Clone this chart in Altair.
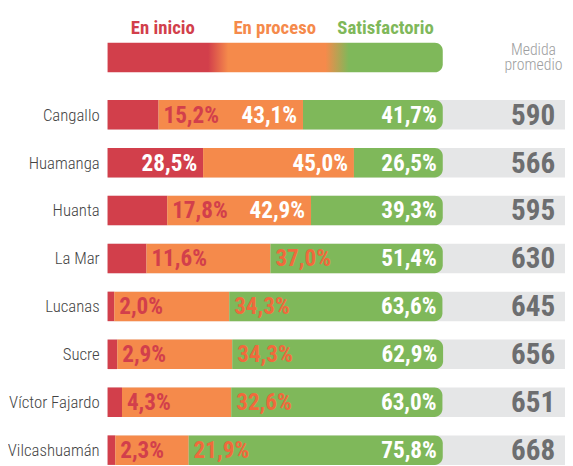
import altair as alt
import pandas as pd

# ---- data ----
provinces = ["Cangallo", "Huamanga", "Huanta", "La Mar", "Lucanas", "Sucre",
             "Víctor Fajardo", "Vilcashuamán"]
en_inicio = [15.2, 28.5, 17.8, 11.6, 2.0, 2.9, 4.3, 2.3]
en_proceso = [43.1, 45.0, 42.9, 37.0, 34.3, 34.3, 32.6, 21.9]
satisfactorio = [41.7, 26.5, 39.3, 51.4, 63.6, 62.9, 63.0, 75.8]
medida = [590, 566, 595, 630, 645, 656, 651, 668]
levels = ["En inicio", "En proceso", "Satisfactorio"]

RED, ORANGE, GREEN = "#d23f4b", "#f58a4b", "#7fb85a"
ORANGE_TXT = "#f06a3c"
GREY_BG = "#e5e6e7"
FONT = "'Roboto Condensed', Roboto, 'Liberation Sans', sans-serif"

def fmt(v):
    return f"{v:.1f}".replace(".", ",") + "%"

seg_rows, inside_rows, outside_rows = [], [], []
for i, p in enumerate(provinces):
    a, b, c = en_inicio[i], en_proceso[i], satisfactorio[i]
    seg_rows += [
        dict(row=i, prov=p, level=levels[0], start=0, end=a, col=RED),
        dict(row=i, prov=p, level=levels[1], start=a, end=a + b, col=ORANGE),
        dict(row=i, prov=p, level=levels[2], start=a + b, end=a + b + c, col=GREEN),
    ]
    red_inside = a >= 25
    if red_inside:
        inside_rows.append(dict(row=i, pos=a, txt=fmt(a)))
    else:
        outside_rows.append(dict(row=i, pos=a, txt=fmt(a), tcol=RED))
    if (not red_inside) and b < 40:
        outside_rows.append(dict(row=i, pos=a + b, txt=fmt(b), tcol=ORANGE_TXT))
    else:
        inside_rows.append(dict(row=i, pos=a + b, txt=fmt(b)))
    inside_rows.append(dict(row=i, pos=a + b + c, txt=fmt(c)))

seg = pd.DataFrame(seg_rows)
seg["y0"] = seg["row"] - 0.308
seg["y1"] = seg["row"] + 0.308
inside = pd.DataFrame(inside_rows)
outside = pd.DataFrame(outside_rows)
rows = pd.DataFrame({"row": range(len(provinces)), "prov": provinces,
                     "medida": medida})
rows["y0"] = rows["row"] - 0.308
rows["y1"] = rows["row"] + 0.308
rows["zero"] = 0

xs = alt.Scale(domain=[0, 100], range=[101, 441], nice=False, zero=False)
ys = alt.Scale(domain=[0, 7], range=[105, 445.2], nice=False, zero=False)
X = lambda f: alt.X(f, scale=xs, axis=None)
Y = lambda f: alt.Y(f, scale=ys, axis=None)

grey = alt.Chart(rows).mark_rect(color=GREY_BG).encode(
    x=X("zero:Q"), x2=alt.value(565), y=Y("y0:Q"), y2="y1:Q",
)

bars = alt.Chart(seg).mark_rect().encode(
    x=X("start:Q"), x2="end:Q", y=Y("y0:Q"), y2="y1:Q",
    color=alt.Color("col:N", scale=None),
).transform_filter(alt.datum.level != "Satisfactorio")

green = alt.Chart(seg).mark_rect(
    cornerRadiusTopRight=8, cornerRadiusBottomRight=8, color=GREEN
).encode(
    x=X("start:Q"), x2="end:Q", y=Y("y0:Q"), y2="y1:Q",
).transform_filter(alt.datum.level == "Satisfactorio")

t_in = alt.Chart(inside).mark_text(
    align="right", baseline="middle", dx=-6, dy=1, font=FONT, fontSize=23.5,
    fontWeight="bold", color="white"
).encode(x=X("pos:Q"), y=Y("row:Q"), text="txt:N")

t_out = alt.Chart(outside).mark_text(
    align="left", baseline="middle", dx=5, dy=1, font=FONT, fontSize=23.5,
    fontWeight="bold"
).encode(x=X("pos:Q"), y=Y("row:Q"), text="txt:N",
         color=alt.Color("tcol:N", scale=None))

cats = alt.Chart(rows).mark_text(
    align="right", baseline="middle", dy=1, font=FONT, fontSize=17,
    fontWeight=300, color="#444444"
).encode(x=alt.value(93), y=Y("row:Q"), text="prov:N")

nums = alt.Chart(rows).mark_text(
    align="right", baseline="middle", dy=1, font=FONT, fontSize=29.5,
    fontWeight="bold", color="#6d6e70"
).encode(x=alt.value(555), y=Y("row:Q"), text="medida:Q")

grad = alt.Gradient(
    gradient="linear", x1=0, x2=1, y1=0, y2=0,
    stops=[alt.GradientStop(color=RED, offset=0),
           alt.GradientStop(color=RED, offset=0.30),
           alt.GradientStop(color=ORANGE, offset=0.36),
           alt.GradientStop(color=ORANGE, offset=0.65),
           alt.GradientStop(color=GREEN, offset=0.72),
           alt.GradientStop(color=GREEN, offset=1)])
legend_df = pd.DataFrame({"a": [0], "b": [100]})
legend_bar = alt.Chart(legend_df).mark_rect(
    fill=grad, cornerRadiusTopRight=8, cornerRadiusBottomRight=8
).encode(x=X("a:Q"), x2="b:Q", y=alt.value(32), y2=alt.value(62))

head_df = pd.DataFrame({"lbl": levels, "px": [157, 270.5, 383],
                        "col": [RED, ORANGE, GREEN]})
heads = alt.Chart(head_df).mark_text(
    align="center", baseline="alphabetic", font=FONT, fontSize=19,
    fontWeight="bold"
).encode(x=alt.X("px:Q", scale=None, axis=None), y=alt.value(23),
         text="lbl:N", color=alt.Color("col:N", scale=None))

med_df = pd.DataFrame({"t": ["Medida", "promedio"], "py": [44, 60]})
med = alt.Chart(med_df).mark_text(
    align="center", baseline="alphabetic", font=FONT, fontSize=16,
    fontWeight=300, color="#9d9ea0"
).encode(x=alt.value(533), y=alt.Y("py:Q", scale=None, axis=None), text="t:N")

chart = alt.layer(
    grey, bars, green, t_in, t_out, cats, nums, legend_bar, heads, med
).properties(
    width=565, height=458, padding=0,
    autosize=alt.AutoSizeParams(type="none"),
).configure_view(stroke=None)

chart.save("out.html", embed_options={"renderer": "svg", "actions": False})
